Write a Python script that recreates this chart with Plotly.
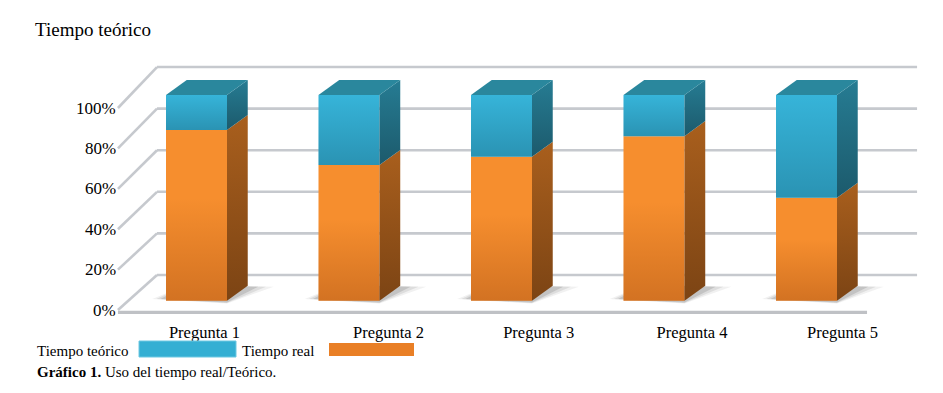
import plotly.graph_objects as go

# ---------------- data ----------------
categories = ["Pregunta 1", "Pregunta 2", "Pregunta 3", "Pregunta 4", "Pregunta 5"]
tiempo_real = [83, 66, 70, 80, 50]          # % (orange, bottom)
tiempo_teorico = [17, 34, 30, 20, 50]       # % (blue, top)
y_ticks = [0, 20, 40, 60, 80, 100]
y_tick_labels = ["0%", "20%", "40%", "60%", "80%", "100%"]

# ---------------- style / geometry ----------------
FONT = "Liberation Serif"
ORANGE = "#f68e2e"
ORANGE_SIDE_TOP = "#a95f1d"
ORANGE_SIDE_BOT = "#7c4414"
BLUE = "#36b4d9"
BLUE_SIDE_TOP = "#267c93"
BLUE_SIDE_BOT = "#1c5a6c"
TOP = "#2a879d"
GRID = "#c6c9ce"

W = 0.4          # bar width (category units)
DX, DY = 0.136, 7.3    # bar depth offset
FX, BXL, BXR, FXR = -0.515, -0.259, 4.725, 4.397   # wall / floor extents


def front_y(v):
    return -4.52 + 0.982 * v


def back_y(v):
    return 12.49 + 1.011 * v


def path(xs, ys):
    return "M " + " L ".join(f"{a},{b}" for a, b in zip(xs, ys)) + " Z"


idx = list(range(len(categories)))
fig = go.Figure()

# --- walls: gridlines on back wall, diagonals on left wall, front floor edge (below traces)
for v in y_ticks:
    fig.add_shape(type="line", xref="x", yref="y", x0=BXL, x1=BXR, y0=back_y(v), y1=back_y(v),
                  line=dict(color=GRID, width=2.6), layer="below")
    fig.add_shape(type="line", xref="x", yref="y", x0=FX, x1=BXL, y0=front_y(v), y1=back_y(v),
                  line=dict(color=GRID, width=2.6), layer="below")
fig.add_shape(type="line", xref="x", yref="y", x0=FX, x1=FXR, y0=front_y(0) - 1.2, y1=front_y(0) - 1.2,
              line=dict(color="#bfc1c5", width=3.2), layer="below")

# --- soft shadows on the floor (below traces)
for i in idx:
    for k, a in [(1.0, 0.07), (0.7, 0.10), (0.4, 0.15)]:
        xl = i - W / 2 - 0.09 * k
        xr = i + W / 2 + DX + 0.17 * k
        fig.add_shape(type="path", xref="x", yref="y",
                      path=path([xl, i + W / 2, xr, i - W / 2 + DX],
                                [0.8, -0.6 - 0.8 * k, DY - 0.5, DY + 0.5]),
                      fillcolor=f"rgba(50,50,50,{a})", line=dict(width=0), layer="below")

# --- front faces: stacked bars
fig.add_trace(go.Bar(x=idx, y=tiempo_real, width=W, name="Tiempo real",
                     marker=dict(color=ORANGE, line=dict(width=0)), showlegend=False))
fig.add_trace(go.Bar(x=idx, y=tiempo_teorico, base=tiempo_real, width=W, name="Tiempo teórico",
                     marker=dict(color=BLUE, line=dict(width=0)), showlegend=False))

# --- shading on front faces, side faces and top faces (3D look)
for i, r in zip(idx, tiempo_real):
    xl, xa, xb = i - W / 2, i + W / 2, i + W / 2 + DX
    # front shading (darker towards the bottom of each segment)
    fig.add_trace(go.Scatter(
        x=[xl, xa, xa, xl, xl], y=[0, 0, r, r, 0], fill="toself", mode="none",
        fillgradient=dict(type="vertical", colorscale=[[0, "rgba(110,35,0,0.26)"], [0.6, "rgba(110,35,0,0.0)"],
                                                       [1, "rgba(110,35,0,0.0)"]]),
        hoverinfo="skip", showlegend=False))
    fig.add_trace(go.Scatter(
        x=[xl, xa, xa, xl, xl], y=[r, r, 100, 100, r], fill="toself", mode="none",
        fillgradient=dict(type="vertical", colorscale=[[0, "rgba(0,30,45,0.22)"], [1, "rgba(0,30,45,0.0)"]]),
        hoverinfo="skip", showlegend=False))
    # side faces
    fig.add_trace(go.Scatter(
        x=[xa, xb, xb, xa, xa], y=[0, DY, r + DY, r, 0], fill="toself", mode="none",
        fillgradient=dict(type="vertical", colorscale=[[0, ORANGE_SIDE_BOT], [1, ORANGE_SIDE_TOP]]),
        hoverinfo="skip", showlegend=False))
    fig.add_trace(go.Scatter(
        x=[xa, xb, xb, xa, xa], y=[r, r + DY, 100 + DY, 100, r], fill="toself", mode="none",
        fillgradient=dict(type="vertical", colorscale=[[0, BLUE_SIDE_BOT], [1, BLUE_SIDE_TOP]]),
        hoverinfo="skip", showlegend=False))
    # top face
    fig.add_trace(go.Scatter(
        x=[xl, xa, xb, xl + DX, xl],
        y=[100, 100, 100 + DY, 100 + DY, 100], fill="toself", mode="none",
        fillcolor=TOP, hoverinfo="skip", showlegend=False))

# --- y labels along the front edge of the left wall
for v, lab in zip(y_ticks, y_tick_labels):
    fig.add_annotation(x=FX, y=front_y(v), xref="x", yref="y", text=lab, showarrow=False,
                       xanchor="right", yanchor="middle", xshift=0,
                       font=dict(family=FONT, size=17, color="#000"))

# ---------------- layout ----------------
L, R, T, B = 100, 930, 55, 320
WIDTH, HEIGHT = 943, 393
x_px0, x_step = 196.5, 152.5
y_px0, y_step = 300.7, 2.057
xr = [(L - x_px0) / x_step, (R - x_px0) / x_step]
yr = [(y_px0 - B) / y_step, (y_px0 - T) / y_step]

label_shift = [0.052, 0.259, 0.244, 0.249, 0.236]


def px(xp):
    return (xp - L) / (R - L)


def py(yp):
    return (B - yp) / (B - T)


# legend (custom, matches the wide swatches of the reference)
fig.add_annotation(x=px(35), y=py(351), xref="paper", yref="paper", text="Tiempo teórico",
                   showarrow=False, xanchor="left", yanchor="middle",
                   font=dict(family=FONT, size=15, color="#000"))
fig.add_shape(type="rect", xref="paper", yref="paper", x0=px(139), x1=px(236), y0=py(357), y1=py(341),
              fillcolor="#34afd3", line=dict(width=1, color="#6cc8e2"))
fig.add_annotation(x=px(240), y=py(351), xref="paper", yref="paper", text="Tiempo real",
                   showarrow=False, xanchor="left", yanchor="middle",
                   font=dict(family=FONT, size=15, color="#000"))
fig.add_shape(type="rect", xref="paper", yref="paper", x0=px(329), x1=px(414), y0=py(356), y1=py(343),
              fillcolor="#e97f26", line=dict(width=0))
fig.add_annotation(x=px(35), y=py(372), xref="paper", yref="paper",
                   text="<b>Gráfico 1.</b> Uso del tiempo real/Teórico.",
                   showarrow=False, xanchor="left", yanchor="middle",
                   font=dict(family=FONT, size=15, color="#000"))

fig.update_layout(
    width=WIDTH, height=HEIGHT,
    margin=dict(l=L, r=WIDTH - R, t=T, b=HEIGHT - B, pad=0),
    paper_bgcolor="white", plot_bgcolor="white",
    barmode="overlay",
    showlegend=False,
    title=dict(text="Tiempo teórico", x=35 / WIDTH, xref="container", xanchor="left",
               y=1 - 29 / HEIGHT, yref="container", yanchor="middle",
               font=dict(family=FONT, size=19, color="#000")),
    xaxis=dict(range=xr, showgrid=False, zeroline=False, showline=False, ticks="",
               tickmode="array", tickvals=[i + s for i, s in zip(idx, label_shift)],
               ticktext=categories, tickfont=dict(family=FONT, size=16.5, color="#000"),
               fixedrange=True),
    yaxis=dict(range=yr, showgrid=False, zeroline=False, showline=False, showticklabels=False,
               ticks="", fixedrange=True),
    font=dict(family=FONT, color="#000"),
)

fig.write_html("out.html", config={"displayModeBar": False},
               post_script="document.body.style.margin='0';")
